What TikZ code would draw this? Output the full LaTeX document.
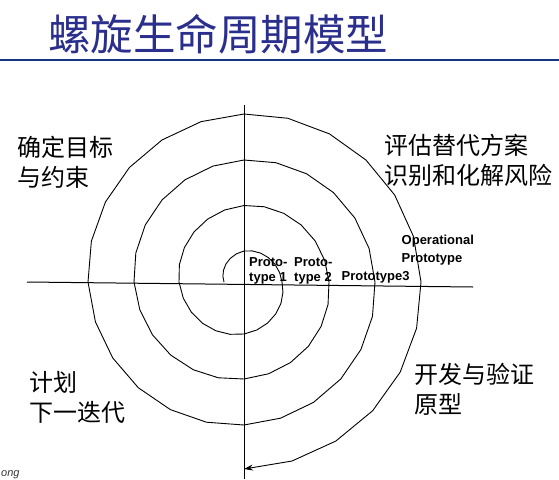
\documentclass[tikz,border=0pt]{standalone}
\usepackage{fontspec}
\setmainfont{Liberation Sans}
\newfontfamily\cjk{Noto Sans CJK SC}
\usetikzlibrary{arrows.meta}
\definecolor{titleblue}{RGB}{42,46,140}
\definecolor{rulecolor}{RGB}{22,52,128}
\begin{document}
\begin{tikzpicture}[x=1pt,y=-1pt,
  titletext/.style={font=\cjk\fontsize{42.5}{42.5}\selectfont, text=titleblue, inner sep=0, anchor=base west},
  quadlabel/.style={font=\cjk\fontsize{24}{29.5}\selectfont, inner sep=0, anchor=base west, align=left},
  protolabel/.style={font=\bfseries\fontsize{13}{14.5}\selectfont, inner sep=0, anchor=base west, align=left},
  axisline/.style={line width=1pt, black},
  spiralline/.style={line width=0.9pt, black, line join=round}]
\useasboundingbox (0,0) rectangle (559,479);

% heading and rule
\node[titletext] (title) at (48,50) {螺旋生命周期模型};
\coordinate (ruleL) at (0,60);
\coordinate (ruleR) at (559,60);
\draw[rulecolor, line width=2.6pt] (ruleL) -- (ruleR);

% axes
\coordinate (hL) at (27,282);
\coordinate (hR) at (473,287);
\coordinate (vT) at (244,105);
\coordinate (vB) at (244,479);
\draw[axisline] (hL) -- (hR);
\draw[axisline] (vT) -- (vB);

% polygonal spiral, 15 degree steps, radius interpolated per quarter turn
\begin{scope}[shift={(244,282)}]
\draw[spiralline, -{Stealth[length=9pt,width=6pt]}] (180:20)
  \foreach \q/\ra/\rb in {0/20/31,1/31/38,2/38/52,3/52/65,4/65/76.5,5/76.5/85,
      6/85/97,7/97/110,8/110/122,9/122/131,10/131/143,11/143/156,
      12/156/168,13/168/177,14/177/187}
  { \foreach \k in {1,...,6} { -- ({180+90*\q+15*\k}:{\ra+(\rb-\ra)*\k/6}) } };
\end{scope}

% quadrant labels (anchored on the baseline of the last line)
\node[quadlabel] (goals) at (17,186) {确定目标\\与约束};
\node[quadlabel] (risks) at (384,184) {评估替代方案\\识别和化解风险};
\node[quadlabel] (plan) at (29,421) {计划\\下一迭代};
\node[quadlabel] (develop) at (414,413) {开发与验证\\原型};

% prototype labels
\node[protolabel] (p1) at (249,281) {Proto-\\type 1};
\node[protolabel] (p2) at (294,281) {Proto-\\type 2};
\node[protolabel] (p3) at (341.5,280.5) {Prototype3};
\node[protolabel, font=\bfseries\fontsize{13}{18}\selectfont] (pop) at (401.5,262) {Operational\\Prototype};

% corner fragment
\node[inner sep=0, anchor=base west, font=\itshape\fontsize{11}{11}\selectfont, text=black!80] (corner) at (1,476) {ong};
\end{tikzpicture}
\end{document}
